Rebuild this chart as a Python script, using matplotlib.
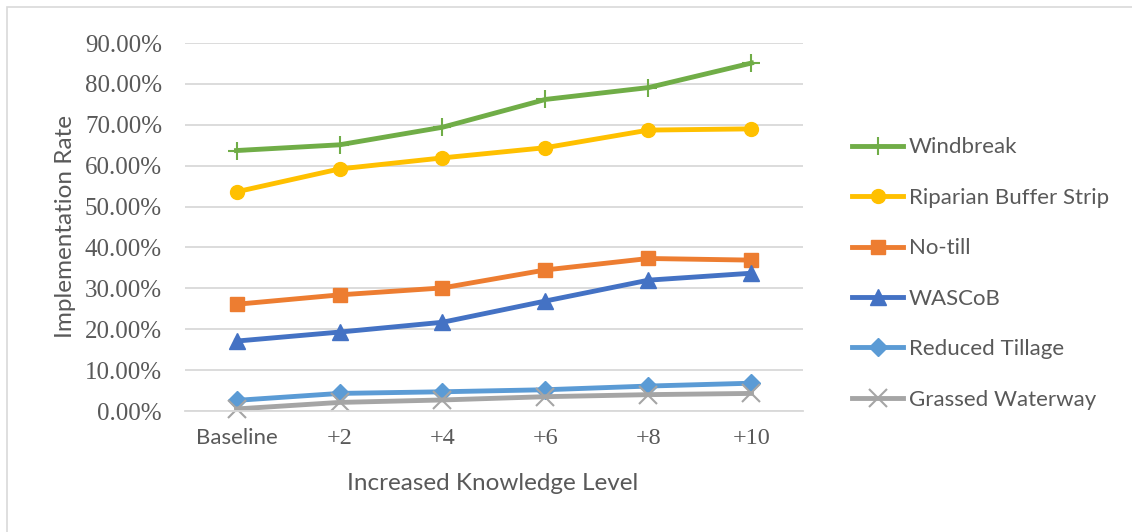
import matplotlib
matplotlib.use('Agg')
from matplotlib import pyplot as plt
from matplotlib.patches import Rectangle

levels = ['Baseline', '+2', '+4', '+6', '+8', '+10']

windbreak = [63.7, 65.1, 69.4, 76.2, 79.1, 85.1]
riparian = [53.6, 59.2, 61.9, 64.4, 68.7, 69.0]
no_till = [26.1, 28.4, 30.1, 34.5, 37.3, 36.9]
wascob = [17.1, 19.3, 21.7, 26.9, 32.0, 33.7]
reduced_tillage = [2.6, 4.3, 4.7, 5.2, 6.1, 6.8]
grassed_waterway = [0.5, 2.1, 2.7, 3.5, 4.0, 4.3]

series = [
    ('Windbreak', windbreak, '#70AD47', '+'),
    ('Riparian Buffer Strip', riparian, '#FFC000', 'o'),
    ('No-till', no_till, '#ED7D31', 's'),
    ('WASCoB', wascob, '#4472C4', '^'),
    ('Reduced Tillage', reduced_tillage, '#5B9BD5', 'D'),
    ('Grassed Waterway', grassed_waterway, '#A5A5A5', 'x'),
]

text_col = '#595959'
sans = ['Lato', 'DejaVu Sans']
serif = ['Liberation Serif', 'DejaVu Serif']

fig = plt.figure(figsize=(11.32, 5.32), dpi=100)
fig.patches.append(Rectangle((7 / 1132, -0.1), 1.2, 1.1 - 7 / 532,
                             transform=fig.transFigure, fill=False,
                             edgecolor='#D9D9D9', linewidth=1.2))
ax = fig.add_axes([185 / 1132, 1 - 411 / 532, 618 / 1132, 368 / 532])

x = list(range(len(levels)))
for name, vals, col, mk in series:
    if mk in ('+', 'x'):
        ax.plot(x, [v / 100 for v in vals], color=col, linewidth=3.5, marker=mk,
                markersize=13, markeredgewidth=1.5, label=name, clip_on=False)
    else:
        ms = {'o': 10, 's': 10, '^': 11, 'D': 9}[mk]
        ax.plot(x, [v / 100 for v in vals], color=col, linewidth=3.5, marker=mk,
                markersize=ms, label=name, clip_on=False)

ax.set_xlim(-0.5, len(levels) - 0.5)
ax.set_ylim(0, 0.9)
ax.set_yticks([i / 10 for i in range(10)])
ax.set_yticklabels(['%.2f%%' % (i * 10) for i in range(10)], family=serif,
                   fontsize=18, color=text_col)
ax.set_xticks(x)
ax.set_xticklabels(levels, family=serif, fontsize=17.5, color=text_col)
ax.get_xticklabels()[0].set_family(sans)
ax.get_xticklabels()[0].set_fontsize(16)
ax.tick_params(length=0)
ax.tick_params(axis='y', pad=16.5)
ax.tick_params(axis='x', pad=12)
ax.grid(axis='y', color='#D9D9D9', linewidth=1.3)
ax.set_axisbelow(True)
for s in ['top', 'right', 'left']:
    ax.spines[s].set_visible(False)
ax.spines['bottom'].set_color('#D9D9D9')
ax.spines['bottom'].set_linewidth(1.3)

ax.set_ylabel('Implementation Rate', family=sans, fontsize=17.5, color=text_col)
ax.set_xlabel('Increased Knowledge Level', family=sans, fontsize=17.5, color=text_col)
ax.yaxis.set_label_coords((65 - 185) / 618, (411 - 226) / 368)
ax.xaxis.set_label_coords((493 - 185) / 618, (411 - 483) / 368)
ax.xaxis.label.set_va('center')
ax.yaxis.label.set_va('center')

leg = fig.legend(loc='center left', bbox_to_anchor=(852 / 1132, 1 - 273.5 / 532),
                 frameon=False, prop={'family': sans, 'size': 16},
                 labelspacing=1.37, handlelength=2.3, handletextpad=0.27,
                 borderpad=0, borderaxespad=0)
for t in leg.get_texts():
    t.set_color(text_col)

fig.savefig('out.png', dpi=100)
